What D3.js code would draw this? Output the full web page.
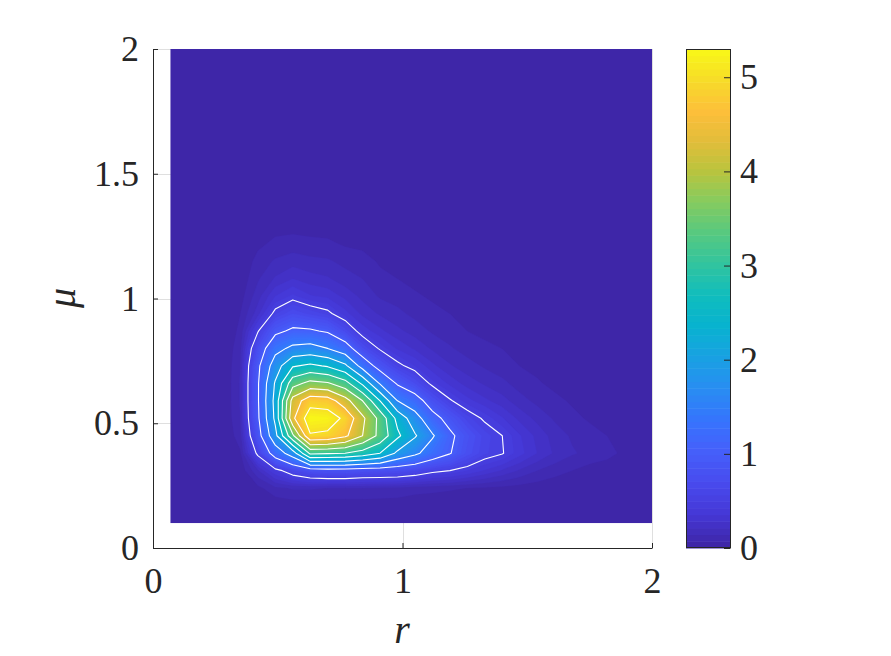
<!DOCTYPE html>
<html>
<head>
<meta charset="utf-8">
<script src="https://cdn.jsdelivr.net/npm/d3@7"></script>
<style>
  body { margin: 0; background: #fff; }
  text { font-family: "Liberation Serif", "DejaVu Serif", serif; fill: #262626; }
</style>
</head>
<body>
<svg id="chart" width="891" height="656"></svg>
<script>
// grid of the density
const rGrid = [0.07, 0.14, 0.21, 0.28, 0.35, 0.42, 0.49, 0.56, 0.63, 0.70, 0.77, 0.84, 0.91, 0.98,
               1.05, 1.12, 1.19, 1.26, 1.33, 1.40, 1.47, 1.54, 1.61, 1.68, 1.75, 1.82, 1.89, 2.00];
const muGrid = [0.10, 0.17, 0.24, 0.31, 0.38, 0.45, 0.52, 0.59, 0.66, 0.73, 0.80, 0.87, 0.94,
                1.01, 1.08, 1.15, 1.22, 1.29, 1.36, 1.43, 2.00];

// one row per mu value, one column per r value
const density = [
  [0,0,0,0,0,0,0,0,0,0,0,0,0,0,0,0,0,0,0,0,0,0,0,0,0,0,0,0],
  [0,0,0,0,0,0.01,0.02,0.03,0.03,0.03,0.03,0.03,0.03,0.03,0.02,0.02,0.02,0.01,0.01,0.01,0.01,0,0,0,0,0,0,0],
  [0,0,0,0,0,0.05,0.12,0.15,0.15,0.14,0.14,0.14,0.13,0.12,0.1,0.09,0.08,0.07,0.06,0.05,0.04,0.03,0.02,0.01,0,0,0,0],
  [0,0,0,0,0.02,0.2,0.42,0.62,0.75,0.8,0.8,0.75,0.74,0.72,0.65,0.55,0.5,0.42,0.34,0.27,0.2,0.14,0.1,0.07,0.04,0.02,0,0],
  [0,0,0,0,0.06,0.55,1.2,1.75,3.1,3.05,3.0,2.8,2.5,1.9,1.6,1.25,1.02,0.75,0.58,0.51,0.38,0.28,0.2,0.15,0.12,0.1,0.05,0],
  [0,0,0,0,0.11,0.8,1.85,3.4,4.95,4.9,4.6,4.0,3.35,2.6,2.05,1.55,1.08,0.8,0.6,0.5,0.36,0.26,0.18,0.13,0.1,0.07,0.03,0],
  [0,0,0,0,0.14,0.92,2.1,4.4,5.3,5.25,4.9,4.1,3.35,2.35,1.7,1.15,0.85,0.6,0.47,0.36,0.26,0.19,0.13,0.09,0.06,0.03,0,0],
  [0,0,0,0,0.15,0.95,2.15,4.2,4.8,4.75,4.2,3.5,2.5,1.5,1.2,0.78,0.52,0.38,0.3,0.24,0.17,0.12,0.09,0.06,0.03,0.01,0,0],
  [0,0,0,0,0.15,0.95,2.05,3.3,3.65,3.55,3.2,2.4,1.45,0.95,0.7,0.45,0.33,0.25,0.2,0.16,0.11,0.08,0.05,0.03,0.01,0,0,0],
  [0,0,0,0,0.14,0.9,1.75,2.45,2.6,2.45,2.1,1.3,0.82,0.55,0.42,0.3,0.22,0.17,0.13,0.1,0.07,0.05,0.03,0.01,0,0,0,0],
  [0,0,0,0,0.12,0.72,1.35,1.6,1.66,1.5,1.2,0.72,0.47,0.34,0.27,0.2,0.15,0.11,0.09,0.07,0.04,0.02,0.01,0,0,0,0,0],
  [0,0,0,0,0.09,0.48,0.9,1.07,1.05,0.95,0.68,0.4,0.3,0.23,0.18,0.13,0.1,0.07,0.05,0.04,0.02,0,0,0,0,0,0,0],
  [0,0,0,0,0.07,0.25,0.55,0.7,0.61,0.54,0.38,0.26,0.2,0.16,0.12,0.09,0.07,0.04,0.03,0.02,0,0,0,0,0,0,0,0],
  [0,0,0,0,0.04,0.18,0.35,0.44,0.36,0.33,0.26,0.19,0.13,0.11,0.08,0.06,0.04,0.02,0.01,0,0,0,0,0,0,0,0,0],
  [0,0,0,0,0.02,0.13,0.22,0.28,0.24,0.22,0.17,0.14,0.09,0.07,0.05,0.03,0.02,0,0,0,0,0,0,0,0,0,0,0],
  [0,0,0,0,0,0.1,0.15,0.18,0.16,0.15,0.12,0.1,0.06,0.04,0.03,0.01,0,0,0,0,0,0,0,0,0,0,0,0],
  [0,0,0,0,0,0.05,0.09,0.1,0.09,0.085,0.06,0.05,0.03,0.02,0.01,0,0,0,0,0,0,0,0,0,0,0,0,0],
  [0,0,0,0,0,0.02,0.04,0.045,0.04,0.035,0.02,0.015,0,0,0,0,0,0,0,0,0,0,0,0,0,0,0,0],
  [0,0,0,0,0,0,0.02,0.02,0.02,0.01,0,0,0,0,0,0,0,0,0,0,0,0,0,0,0,0,0,0],
  [0,0,0,0,0,0,0,0,0,0,0,0,0,0,0,0,0,0,0,0,0,0,0,0,0,0,0,0],
  [0,0,0,0,0,0,0,0,0,0,0,0,0,0,0,0,0,0,0,0,0,0,0,0,0,0,0,0]
];

const lineLevels = [0.5, 1, 1.5, 2, 2.5, 3, 3.5, 4, 4.5, 5];
const xTicks = [0, 1, 2];
const yTicks = [0, 0.5, 1, 1.5, 2];
const cTicks = [0, 1, 2, 3, 4, 5];

// parula colour map stops
const parulaPos = [0, 0.06, 0.125, 0.19, 0.25, 0.31, 0.375, 0.44, 0.5, 0.56, 0.625, 0.69, 0.75, 0.81, 0.87, 0.93, 1];
const parulaHex = ["#3e26a8", "#4537d5", "#484bee", "#4560fb", "#3674fd", "#298cf2", "#19a1e3",
                   "#08b3cf", "#10bdbd", "#30c4a0", "#57c980", "#87cb5e", "#bac43d", "#e3bd3a",
                   "#fdbf3a", "#f7db29", "#f9fb15"];

const svg = d3.select("#chart");
const axisColor = "#262626";

var x = d3.scaleLinear().domain([0, 2]).range([153, 652]),
    y = d3.scaleLinear().domain([0, 2]).range([548, 49]);

const zmax = d3.max(density.flat());
const nFill = 75;
const fillLevels = d3.range(1, nFill + 1).map(i => i * zmax / nFill);

const parula = d3.scaleLinear().domain(parulaPos).range(parulaHex)
    .interpolate(d3.interpolateRgb).clamp(true);
const colorOf = v => parula(v / zmax);

// grid index -> data value (contour coords put sample i at i + 0.5)
const nx = rGrid.length, ny = muGrid.length;
const colR = d3.scaleLinear().domain(d3.range(nx)).range(rGrid).clamp(true);
const rowMu = d3.scaleLinear().domain(d3.range(ny)).range(muGrid).clamp(true);

const proj = d3.geoTransform({
  point: function(px, py) {
    this.stream.point(x(colR(px - 0.5)), y(rowMu(py - 0.5)));
  }
});
const path = d3.geoPath(proj);
const values = density.flat();

// grid lines (below the data)
const grid = svg.append("g").attr("stroke", "#dfdfdf").attr("stroke-width", 1);
xTicks.forEach(t => grid.append("line")
  .attr("x1", Math.round(x(t)) + 0.5).attr("x2", Math.round(x(t)) + 0.5)
  .attr("y1", y(0)).attr("y2", y(2)));
yTicks.forEach(t => grid.append("line")
  .attr("x1", x(0)).attr("x2", x(2))
  .attr("y1", Math.round(y(t)) + 0.5).attr("y2", Math.round(y(t)) + 0.5));

// filled contours
svg.append("rect")
  .attr("x", x(rGrid[0])).attr("y", y(muGrid[ny - 1]))
  .attr("width", x(rGrid[nx - 1]) - x(rGrid[0]))
  .attr("height", y(muGrid[0]) - y(muGrid[ny - 1]))
  .attr("fill", colorOf(0));

const fills = d3.contours().size([nx, ny]).thresholds(fillLevels)(values);
svg.append("g").selectAll("path")
  .data(fills)
  .enter().append("path")
    .attr("d", path)
    .attr("fill", d => colorOf(d.value))
    .attr("stroke", d => colorOf(d.value))
    .attr("stroke-width", 0.3);

// white contour lines
const lines = d3.contours().size([nx, ny]).thresholds(lineLevels)(values);
svg.append("g").selectAll("path")
  .data(lines)
  .enter().append("path")
    .attr("d", path)
    .attr("fill", "none")
    .attr("stroke", "#fff")
    .attr("stroke-width", 1.1)
    .attr("stroke-linejoin", "round");

// axes
const fmt = d3.format("~g");
const xAxis = d3.axisBottom(x).tickValues(xTicks).tickFormat(fmt)
    .tickSize(-5).tickSizeOuter(0).tickPadding(19);
const yAxis = d3.axisLeft(y).tickValues(yTicks).tickFormat(fmt)
    .tickSize(-5).tickSizeOuter(0).tickPadding(14);

function styleAxis(g) {
  g.attr("font-family", null).attr("font-size", null);
  g.selectAll("path, line").attr("stroke", axisColor);
  g.selectAll("text").style("font-size", "36px").attr("fill", axisColor);
}

svg.append("g").attr("transform", "translate(0,548)").call(xAxis).call(styleAxis);
svg.append("g").attr("transform", "translate(153,0)").call(yAxis).call(styleAxis);

svg.append("text")
  .attr("x", 402).attr("y", 643)
  .attr("text-anchor", "middle")
  .style("font-size", "40px").style("font-style", "italic")
  .text("r");

svg.append("text")
  .attr("transform", "translate(75,298) rotate(-90)")
  .attr("text-anchor", "middle")
  .style("font-size", "40px").style("font-style", "italic")
  .text("\u03bc");

// colour bar
const cbX0 = 686, cbX1 = 730;
const cy = d3.scaleLinear().domain([0, zmax]).range([548, 49]);
const bandEdges = [0].concat(fillLevels);
svg.append("g").selectAll("rect")
  .data(bandEdges.slice(0, -1))
  .enter().append("rect")
    .attr("x", cbX0)
    .attr("width", cbX1 - cbX0)
    .attr("y", (d, i) => cy(bandEdges[i + 1]))
    .attr("height", (d, i) => cy(d) - cy(bandEdges[i + 1]) + 0.5)
    .attr("fill", d => colorOf(d));

svg.append("rect")
  .attr("x", cbX0 + 0.5).attr("y", 49.5)
  .attr("width", cbX1 - cbX0).attr("height", 498)
  .attr("fill", "none").attr("stroke", axisColor);

const cAxis = d3.axisRight(cy).tickValues(cTicks).tickFormat(fmt)
    .tickSize(-6).tickSizeOuter(0).tickPadding(10);
svg.append("g").attr("transform", "translate(" + cbX1 + ",0)").call(cAxis).call(styleAxis);
</script>
</body>
</html>
